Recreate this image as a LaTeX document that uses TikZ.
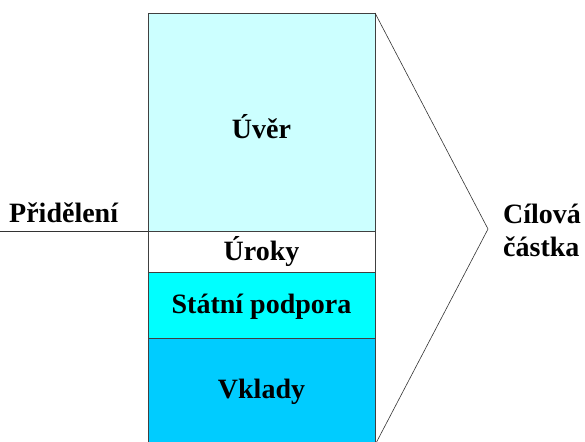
\documentclass[tikz,border=0pt]{standalone}
\usepackage{fontspec}
\setmainfont{Liberation Serif}
\begin{document}
\begin{tikzpicture}[x=1pt,y=-1pt,
  seg/.style={draw=black!75, line width=0.8pt},
  lbl/.style={font=\bfseries\fontsize{28}{33}\selectfont, text=black, inner sep=0pt},
  edge/.style={draw=black!80, line width=0.6pt}]
\definecolor{uvercol}{HTML}{CCFFFF}
\definecolor{podporacol}{HTML}{00FFFF}
\definecolor{vkladycol}{HTML}{00CCFF}
\useasboundingbox (0,0) rectangle (585,441);
% stacked bar segments
\path[seg, fill=uvercol] (148,13) rectangle (375,231);
\path[seg, fill=white] (148,231) rectangle (375,272);
\path[seg, fill=podporacol] (148,272) rectangle (375,338);
\path[seg, fill=vkladycol] (148,338) rectangle (375,446);
\node[lbl] (uver) at (261.5,127) {Úvěr};
\node[lbl] (uroky) at (261.5,252) {Úroky};
\node[lbl] (podpora) at (261.5,307) {Státní podpora};
\node[lbl] (vklady) at (261.5,392) {Vklady};
% allocation marker
\coordinate (pl) at (0,231.5);
\coordinate (pr) at (148,231.5);
\draw[edge] (pl) -- (pr);
\node[lbl, anchor=west] (prid) at (9,213) {Přidělení};
% bracket to the target amount
\coordinate (bt) at (375,13);
\coordinate (ba) at (488,229);
\coordinate (bb) at (375,445);
\draw[edge] (bt) -- (ba) -- (bb);
\node[lbl, align=left, anchor=west] (cil) at (503,230) {Cílová\\částka};
\end{tikzpicture}
\end{document}
